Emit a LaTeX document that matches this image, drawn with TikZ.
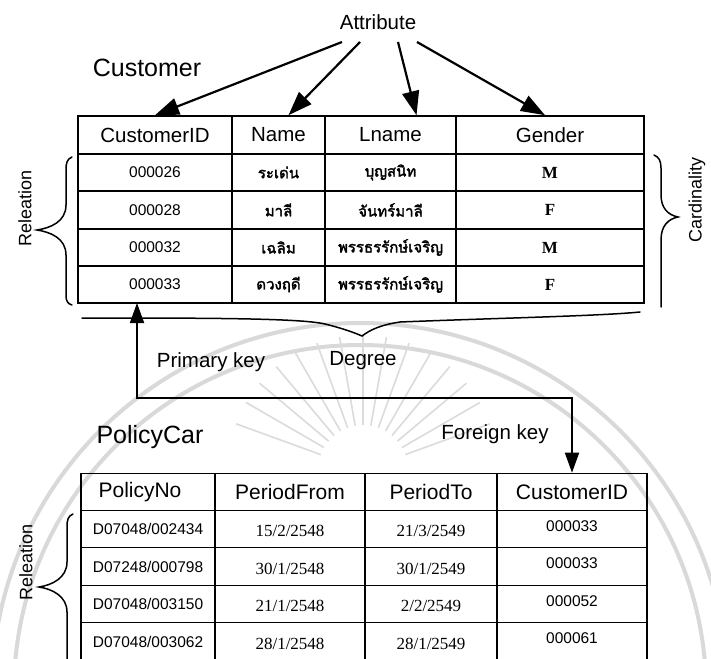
\documentclass[tikz,border=0pt]{standalone}
\usepackage{fontspec}
\setmainfont{Liberation Sans}
\newfontfamily\thaifont[Script=Thai,FakeBold=2.2]{Loma}
\newfontfamily\numserif{Liberation Serif}
\usetikzlibrary{arrows.meta,calc}

\tikzset{
  cell/.style={draw, line width=1.6pt, inner sep=0pt},
  hdr/.style={font=\fontsize{20.5}{24}\selectfont},
  idtxt/.style={font=\fontsize{15.5}{18}\selectfont},
  thtxt/.style={font=\thaifont\fontsize{15}{18}\selectfont},
  mftxt/.style={font=\numserif\bfseries\fontsize{17}{18}\selectfont},
  datetxt/.style={font=\numserif\fontsize{17}{18}\selectfont},
  title/.style={font=\fontsize{25}{30}\selectfont},
  note/.style={font=\fontsize{20.5}{24}\selectfont},
  sidenote/.style={font=\fontsize{18}{22}\selectfont, rotate=90},
  bracepath/.style={line width=1.5pt, line cap=round},
  attrarrow/.style={line width=2.2pt, -{Triangle[length=24pt,width=17pt]}},
  keylink/.style={line width=1.8pt, {Triangle[length=20pt,width=14pt]}-{Triangle[length=20pt,width=14pt]}},
  seal/.style={draw=black!15, line width=4pt},
  sealray/.style={draw=black!14, line width=1.6pt},
}

\begin{document}
\begin{tikzpicture}[x=1pt,y=-1pt]
\useasboundingbox (0,0) rectangle (711,658);
\clip (0,0) rectangle (711,658);
\fill[white] (0,0) rectangle (711,658);

% ---------- faint seal printed behind the diagram ----------
\draw[seal] (360,691) circle[radius=368];
\draw[seal] (360,691) circle[radius=346];
\foreach \a in {200,210,...,340}
  \draw[sealray] ($(363,470)+(\a:45)$) -- ($(363,470)+(\a:135)$);

% ---------- Customer table ----------
\node[title] (cust) at (147,68) {Customer};

\node[cell,hdr,minimum width=154,minimum height=38] (ch1) at (155,135)   {CustomerID};
\node[cell,hdr,minimum width=93, minimum height=38] (ch2) at (278.5,135) {Name};
\node[cell,hdr,minimum width=131,minimum height=38] (ch3) at (390.5,135) {Lname};
\node[cell,hdr,minimum width=188,minimum height=38] (ch4) at (550,135)   {Gender};

\node[cell,idtxt,minimum width=154,minimum height=37] (c11) at (155,172.5)   {000026};
\node[cell,thtxt,minimum width=93, minimum height=37] (c12) at (278.5,172.5) {ระเด่น};
\node[cell,thtxt,minimum width=131,minimum height=37] (c13) at (390.5,172.5) {บุญสนิท};
\node[cell,mftxt,minimum width=188,minimum height=37] (c14) at (550,172.5)   {M};

\node[cell,idtxt,minimum width=154,minimum height=38] (c21) at (155,210)   {000028};
\node[cell,thtxt,minimum width=93, minimum height=38] (c22) at (278.5,210) {มาลี};
\node[cell,thtxt,minimum width=131,minimum height=38] (c23) at (390.5,210) {จันทร์มาลี};
\node[cell,mftxt,minimum width=188,minimum height=38] (c24) at (550,210)   {F};

\node[cell,idtxt,minimum width=154,minimum height=37] (c31) at (155,247.5)   {000032};
\node[cell,thtxt,minimum width=93, minimum height=37] (c32) at (278.5,247.5) {เฉลิม};
\node[cell,thtxt,minimum width=131,minimum height=37] (c33) at (390.5,247.5) {พรรธรรักษ์เจริญ};
\node[cell,mftxt,minimum width=188,minimum height=37] (c34) at (550,247.5)   {M};

\node[cell,idtxt,minimum width=154,minimum height=37] (c41) at (155,284.5)   {000033};
\node[cell,thtxt,minimum width=93, minimum height=37] (c42) at (278.5,284.5) {ดวงฤดี};
\node[cell,thtxt,minimum width=131,minimum height=37] (c43) at (390.5,284.5) {พรรธรรักษ์เจริญ};
\node[cell,mftxt,minimum width=188,minimum height=37] (c44) at (550,284.5)   {F};

% ---------- attribute arrows ----------
\node[font=\fontsize{20.5}{24}\selectfont] (attr) at (378,22) {Attribute};
\coordinate (s1) at (342,42);
\coordinate (s2) at (360,42);
\coordinate (s3) at (398,42);
\coordinate (s4) at (417,42);
\draw[attrarrow] (s1) -- (ch1.north);
\draw[attrarrow] (s2) -- ($(ch2.north)+(10,0)$);
\draw[attrarrow] (s3) -- ($(ch3.north)+(26,0)$);
\draw[attrarrow] (s4) -- ($(ch4.north)+(-5,0)$);

% ---------- braces round the Customer table ----------
\draw[bracepath] (72,157) .. controls (67,159) and (66,163) .. (66,170) -- (66,205)
  .. controls (66,222) and (50,228) .. (37,230)
  .. controls (50,232) and (66,238) .. (66,255) -- (66,296)
  .. controls (66,301) and (68,304) .. (72,305);
\node[sidenote] (rel1) at (25,208) {Releation};

\draw[bracepath] (654,155) .. controls (659,157) and (661,161) .. (661,168) -- (661,195)
  .. controls (661,208) and (668,215) .. (678,217)
  .. controls (668,219) and (661,226) .. (661,240) -- (661,307);
\node[sidenote] (card) at (697,200) {Cardinality};

\draw[bracepath] (82,318) .. controls (200,318) and (300,318) .. (325,324)
  .. controls (345,329) and (355,333) .. (362,336)
  .. controls (370,330) and (380,325) .. (400,322)
  .. controls (500,318) and (600,316) .. (640,312);
\node[note] (deg) at (363,361) {Degree};

% ---------- key link ----------
\node[note] (pk) at (211,362) {Primary key};
\node[note] (fk) at (495,434) {Foreign key};
\coordinate (pkfoot) at (137,303);

% ---------- PolicyCar table ----------
\node[title] (pol) at (150,437) {PolicyCar};

\node[cell,hdr,font=\fontsize{21}{24}\selectfont,minimum width=134,minimum height=37] (bh1) at (148,492) {};
\node[font=\fontsize{21}{24}\selectfont] at ($(bh1)+(-8,0)$) {PolicyNo};
\node[cell,hdr,font=\fontsize{21}{24}\selectfont,minimum width=150,minimum height=37] (bh2) at (290,492) {PeriodFrom};
\node[cell,hdr,font=\fontsize{21}{24}\selectfont,minimum width=132,minimum height=37] (bh3) at (431,492) {PeriodTo};
\node[cell,hdr,font=\fontsize{21}{24}\selectfont,minimum width=150,minimum height=37] (bh4) at (572,492) {CustomerID};

\foreach \r/\y/\h/\pno/\pf/\pt/\cid in {
    1/529/37/D07048\slash 002434/15\slash 2\slash 2548/21\slash 3\slash 2549/000033,
    2/566.5/38/D07248\slash 000798/30\slash 1\slash 2548/30\slash 1\slash 2549/000033,
    3/604/37/D07048\slash 003150/21\slash 1\slash 2548/2\slash 2\slash 2549/000052,
    4/641.5/38/D07048\slash 003062/28\slash 1\slash 2548/28\slash 1\slash 2549/000061} {
  \node[cell,minimum width=134,minimum height=\h] (b\r1) at (148,\y) {};
  \node[font=\fontsize{15.5}{18}\selectfont] at (b\r1) {\pno};
  \node[cell,minimum width=150,minimum height=\h] (b\r2) at (290,\y) {};
  \node[datetxt] at ($(b\r2)+(0,2)$) {\pf};
  \node[cell,minimum width=132,minimum height=\h] (b\r3) at (431,\y) {};
  \node[datetxt] at ($(b\r3)+(0,2)$) {\pt};
  \node[cell,minimum width=150,minimum height=\h] (b\r4) at (572,\y) {};
  \node[font=\fontsize{15.5}{18}\selectfont] at ($(b\r4)+(0,-3)$) {\cid};
}

\draw[keylink] (pkfoot) -- ++(0,95) -| (bh4.north);

% ---------- brace beside the PolicyCar rows ----------
\draw[bracepath] (73,514) .. controls (68,516) and (67,520) .. (67,527) -- (67,562)
  .. controls (67,578) and (52,585) .. (39,587)
  .. controls (52,589) and (67,596) .. (67,612) -- (67,662);
\node[sidenote] (rel2) at (26,562) {Releation};
\end{tikzpicture}
\end{document}
